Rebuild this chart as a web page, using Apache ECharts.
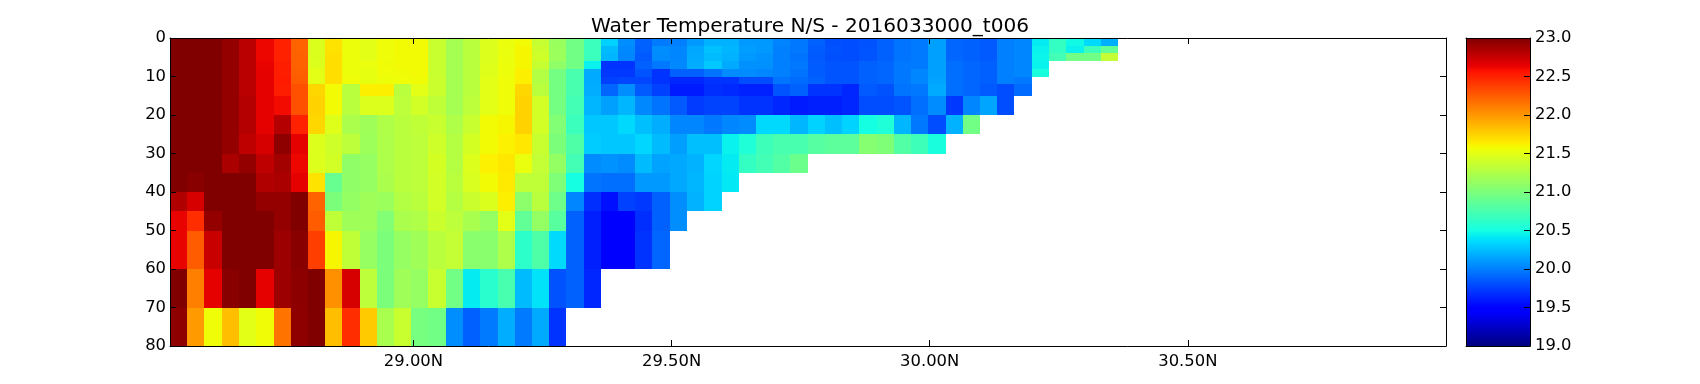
<!DOCTYPE html>
<html>
<head>
<meta charset="utf-8">
<title>Water Temperature N/S</title>
<script src="https://cdn.jsdelivr.net/npm/echarts@6/dist/echarts.min.js"></script>
<style>
html, body { margin: 0; padding: 0; background: #fff; }
#chart { width: 1700px; height: 384px; }
</style>
</head>
<body>
<div id="chart"></div>
<script>
var titleText = 'Water Temperature N/S - 2016033000_t006';
var latTicks = [29, 29.5, 30, 30.5];
var latMin = 28.5285, latMax = 31;
var depthEdges = [0, 2, 4, 6, 8, 10, 12, 15, 20, 25, 30, 35, 40, 45, 50, 60, 70, 80];
var latEdges = [28.529, 28.562, 28.595, 28.629, 28.662, 28.695, 28.729, 28.762, 28.796, 28.829, 28.862,
    28.896, 28.929, 28.962, 28.996, 29.029, 29.063, 29.096, 29.129, 29.163, 29.196, 29.229, 29.263,
    29.296, 29.33, 29.363, 29.396, 29.43, 29.463, 29.497, 29.53, 29.563, 29.597, 29.63, 29.663,
    29.697, 29.73, 29.764, 29.797, 29.83, 29.864, 29.897, 29.93, 29.964, 29.997, 30.031, 30.064,
    30.097, 30.131, 30.164, 30.198, 30.231, 30.264, 30.298, 30.331, 30.364];

// temperature per depth layer, south to north
var t00 = [23,23,23,22.93,22.8,22.62,22.5,22.22,21.46,21.68,21.55,21.5,21.56,21.58,21.58,21.37,21.2,21.3,21.47,21.54,21.58,21.36,21.14,20.95,20.68,20.32,20.06,19.88,19.98,20,20.1,20.2,20.2,20.1,20.1,20.02,19.97,19.88,19.81,19.8,19.82,19.88,19.95,19.98,20.13,19.9,19.88,19.85,20,20.03,20.42,20.65,20.48,20.36,20.19];
var t02 = [23,23,23,22.93,22.8,22.62,22.5,22.22,21.46,21.68,21.55,21.5,21.56,21.58,21.58,21.37,21.2,21.3,21.47,21.53,21.6,21.38,21.15,20.95,20.68,20.24,20.04,19.87,20.06,20.03,20.16,20.26,20.22,20.12,20.1,20,19.97,19.86,19.82,19.8,19.83,19.88,19.95,19.98,20.13,19.9,19.88,19.85,20,20.03,20.45,20.65,20.45,20.7,20.87];
var t04 = [23,23,23,22.93,22.8,22.62,22.5,22.23,21.46,21.7,21.55,21.5,21.56,21.58,21.58,21.37,21.2,21.3,21.47,21.54,21.6,21.4,21.15,20.95,20.68,20.22,20.03,19.85,20.05,20.03,20.17,20.24,20.2,20.1,20.08,20,19.95,19.85,19.81,19.8,19.83,19.88,19.95,19.98,20.13,19.9,19.88,19.85,20,20.03,20.46,20.72,20.95,20.95,21.35];
var t06 = [23,23,23,22.93,22.8,22.64,22.52,22.23,21.47,21.7,21.55,21.53,21.57,21.58,21.58,21.37,21.2,21.3,21.48,21.55,21.6,21.36,21.1,20.95,20.45,19.7,19.7,19.88,19.97,20.04,20.18,20.28,20.17,20.07,20.07,20,19.97,19.86,19.83,19.83,19.88,19.9,19.97,19.98,20.13,19.93,19.9,19.87,20,20.03,20.45];
var t08 = [23,23,23,22.93,22.8,22.65,22.52,22.24,21.5,21.7,21.55,21.52,21.56,21.57,21.58,21.37,21.2,21.3,21.48,21.55,21.63,21.27,20.97,20.75,20.17,19.72,19.72,19.83,19.7,19.87,19.87,19.95,20.05,20.05,20.03,20,19.95,19.86,19.83,19.83,19.88,19.9,19.97,20.03,20.13,19.93,19.9,19.87,20,20.03,20.52];
var t10 = [23,23,23,22.93,22.8,22.65,22.53,22.25,21.5,21.7,21.56,21.52,21.55,21.56,21.57,21.38,21.2,21.3,21.5,21.56,21.63,21.27,20.97,20.75,20.17,19.75,19.77,19.77,19.7,19.65,19.65,19.7,19.7,19.8,19.8,19.95,19.92,19.88,19.83,19.83,19.88,19.9,19.97,20.03,20.14,19.93,19.9,19.87,20,19.97];
var t12 = [23,23,23,22.93,22.8,22.65,22.52,22.3,21.73,21.58,21.3,21.63,21.63,21.3,21.5,21.38,21.2,21.3,21.5,21.56,21.73,21.3,20.97,20.75,20.18,19.9,20.06,19.85,19.75,19.6,19.6,19.68,19.66,19.63,19.63,19.83,19.88,19.7,19.7,19.65,19.85,19.82,19.95,19.97,20.17,19.93,19.9,19.85,19.8,19.92];
var t15 = [23,23,23,22.93,22.82,22.65,22.6,22.3,21.75,21.58,21.3,21.47,21.47,21.32,21.42,21.33,21.2,21.32,21.5,21.56,21.75,21.42,20.97,20.72,20.22,20.13,20.22,20.04,19.95,19.85,19.73,19.76,19.76,19.7,19.7,19.65,19.6,19.62,19.62,19.65,19.8,19.8,19.83,19.93,20.05,19.72,20.03,20.15,19.8];
var t20 = [23,23,23,22.93,22.82,22.65,22.82,22.5,21.73,21.48,21.23,21.17,21.25,21.3,21.33,21.37,21.25,21.37,21.58,21.6,21.75,21.42,21.03,20.68,20.28,20.28,20.35,20.25,20.18,20.03,20.03,19.97,20.03,20.05,20.35,20.35,20.22,20.33,20.25,20.33,20.5,20.55,20.22,19.97,19.8,20.2,20.95];
var t25 = [23,23,23,22.93,22.78,22.7,22.95,22.65,21.47,21.4,21.32,21.16,21.24,21.3,21.32,21.4,21.28,21.43,21.58,21.62,21.66,21.37,21,20.78,20.3,20.28,20.28,20.34,20.24,20.12,20.25,20.25,20.45,20.55,20.7,20.75,20.75,20.82,20.85,20.85,21.05,21.02,20.8,20.7,20.52];
var t30 = [23,23,23,22.85,22.93,22.78,22.88,22.62,21.47,21.42,21.1,21.13,21.24,21.3,21.32,21.43,21.28,21.47,21.62,21.66,21.53,21.35,21.12,20.72,20.05,20.08,20.05,20.24,20.14,20.16,20.2,20.34,20.42,20.65,20.72,20.8,20.92];
var t35 = [23,22.97,23,23,23,22.83,22.85,22.65,21.68,20.9,21.1,21.13,21.23,21.3,21.32,21.42,21.3,21.45,21.58,21.65,21.33,21.33,21.02,20.5,19.95,19.93,19.93,20.1,20.1,20.16,20.22,20.33,20.41];
var t40 = [22.83,22.7,23,23,23,22.93,22.93,23,22.22,21,21.12,21.17,21.15,21.27,21.3,21.42,21.28,21.38,21.46,21.63,21.08,21.3,20.93,20.03,19.68,19.56,19.75,19.72,19.88,20.06,20.2,20.33];
var t45 = [22.64,22.45,22.93,23,23,23,22.93,23,22.25,21.33,21.17,21.17,21.03,21.23,21.25,21.38,21.32,21.22,21.13,21.5,20.87,21.12,20.83,19.88,19.62,19.5,19.5,19.68,19.88,20.06];
var t50 = [22.64,22.25,22.75,23,23,23,22.9,22.97,22.38,21.6,21.33,21.13,21,21.13,21.17,21.3,21.35,21.07,21.07,21.24,20.62,20.78,20.36,19.88,19.62,19.5,19.5,19.7,19.9];
var t60 = [23,22.1,22.65,22.97,23,22.65,22.9,22.96,23,22.03,22.7,21.32,21,21.17,21.13,21.37,20.95,20.42,20.6,20.75,20.24,20.39,19.82,19.88,19.65];
var t70 = [22.95,21.98,21.56,21.83,21.5,21.57,22.15,22.95,23,21.83,22.45,21.78,21.22,21.37,20.98,20.95,20.06,19.87,19.98,20.18,19.98,20.17,19.7];
var layers = [t00, t02, t04, t06, t08, t10, t12, t15, t20, t25, t30, t35, t40, t45, t50, t60, t70];

// matplotlib jet
function seg(t, pts) {
    for (var i = 1; i < pts.length; i++) {
        if (t <= pts[i][0]) {
            return pts[i - 1][1] + (pts[i][1] - pts[i - 1][1]) * (t - pts[i - 1][0]) / (pts[i][0] - pts[i - 1][0]);
        }
    }
    return pts[pts.length - 1][1];
}
function jet(t) {
    var r = seg(t, [[0, 0], [0.35, 0], [0.66, 1], [0.89, 1], [1, 0.5]]);
    var g = seg(t, [[0, 0], [0.125, 0], [0.375, 1], [0.64, 1], [0.91, 0], [1, 0]]);
    var b = seg(t, [[0, 0.5], [0.11, 1], [0.34, 1], [0.65, 0], [1, 0]]);
    return 'rgb(' + Math.round(r * 255) + ',' + Math.round(g * 255) + ',' + Math.round(b * 255) + ')';
}
var jetColors = [];
for (var c = 0; c <= 128; c++) { jetColors.push(jet(c / 128)); }
var jetStops = [0, 0.11, 0.125, 0.34, 0.35, 0.375, 0.64, 0.65, 0.66, 0.89, 0.91, 1].map(function (t) {
    return { offset: 1 - t, color: jet(t) };
}).reverse();

var cells = [];
layers.forEach(function (row, j) {
    row.forEach(function (v, i) {
        cells.push([latEdges[i], latEdges[i + 1], depthEdges[j], depthEdges[j + 1], v]);
    });
});

var font = 'DejaVu Sans';
var spine = { show: true, onZero: false, lineStyle: { color: '#000', width: 1 } };
var tick = { show: true, inside: true, length: 6, lineStyle: { color: '#000', width: 1 } };
var tickLabel = { color: '#000', fontFamily: font, fontSize: 16.4 };

var chart = echarts.init(document.getElementById('chart'));
chart.setOption({
    animation: false,
    backgroundColor: '#fff',
    title: {
        text: titleText, left: 805, top: 12, textAlign: 'center',
        textStyle: { color: '#000', fontFamily: font, fontWeight: 'normal', fontSize: 20.1 }
    },
    grid: [
        { left: 170, top: 38, width: 1276, height: 308 },
        { left: 1466, top: 38, width: 64, height: 308 }
    ],
    visualMap: { show: false, seriesIndex: 0, dimension: 4, min: 19, max: 23, inRange: { color: jetColors } },
    xAxis: [
        {
            type: 'value', gridIndex: 0, position: 'bottom', min: latMin, max: latMax, z: 5, splitLine: { show: false },
            axisLine: spine,
            axisTick: Object.assign({}, tick, { customValues: latTicks }),
            axisLabel: Object.assign({}, tickLabel, { margin: 8, customValues: latTicks, formatter: function (v) { return v.toFixed(2) + 'N'; } })
        },
        {
            type: 'value', gridIndex: 0, position: 'top', min: latMin, max: latMax, z: 5, splitLine: { show: false },
            axisLine: spine,
            axisTick: Object.assign({}, tick, { customValues: latTicks }),
            axisLabel: { show: false }
        },
        {
            type: 'value', gridIndex: 1, position: 'bottom', min: 0, max: 1, z: 5, splitLine: { show: false },
            axisLine: spine, axisTick: { show: false }, axisLabel: { show: false }
        },
        {
            type: 'value', gridIndex: 1, position: 'top', min: 0, max: 1, z: 5, splitLine: { show: false },
            axisLine: spine, axisTick: { show: false }, axisLabel: { show: false }
        }
    ],
    yAxis: [
        {
            type: 'value', gridIndex: 0, position: 'left', inverse: true, min: 0, max: 80, interval: 10, z: 5,
            splitLine: { show: false }, axisLine: spine, axisTick: tick,
            axisLabel: Object.assign({}, tickLabel, { margin: 4 })
        },
        {
            type: 'value', gridIndex: 0, position: 'right', inverse: true, min: 0, max: 80, interval: 10, z: 5,
            splitLine: { show: false }, axisLine: spine, axisTick: tick, axisLabel: { show: false }
        },
        {
            type: 'value', gridIndex: 1, position: 'right', min: 19, max: 23, interval: 0.5, z: 5,
            splitLine: { show: false }, axisLine: spine, axisTick: tick,
            axisLabel: Object.assign({}, tickLabel, { margin: 5, formatter: function (v) { return v.toFixed(1); } })
        },
        {
            type: 'value', gridIndex: 1, position: 'left', min: 19, max: 23, z: 5,
            splitLine: { show: false }, axisLine: spine, axisTick: { show: false }, axisLabel: { show: false }
        }
    ],
    series: [
        {
            type: 'custom', xAxisIndex: 0, yAxisIndex: 0, clip: true,
            encode: { x: [0, 1], y: [2, 3] },
            data: cells,
            renderItem: function (params, api) {
                var a = api.coord([api.value(0), api.value(2)]);
                var b = api.coord([api.value(1), api.value(3)]);
                var x0 = Math.round(a[0]), y0 = Math.round(a[1]);
                return {
                    type: 'rect',
                    shape: { x: x0, y: y0, width: Math.round(b[0]) - x0, height: Math.round(b[1]) - y0 },
                    style: { fill: api.visual('color') }
                };
            }
        },
        {
            type: 'custom', xAxisIndex: 2, yAxisIndex: 2,
            data: [[0, 1, 19, 23]],
            renderItem: function (params, api) {
                var a = api.coord([api.value(0), api.value(3)]);
                var b = api.coord([api.value(1), api.value(2)]);
                return {
                    type: 'rect',
                    shape: { x: a[0], y: a[1], width: b[0] - a[0], height: b[1] - a[1] },
                    style: { fill: new echarts.graphic.LinearGradient(0, 0, 0, 1, jetStops) }
                };
            }
        }
    ]
});
</script>
</body>
</html>
